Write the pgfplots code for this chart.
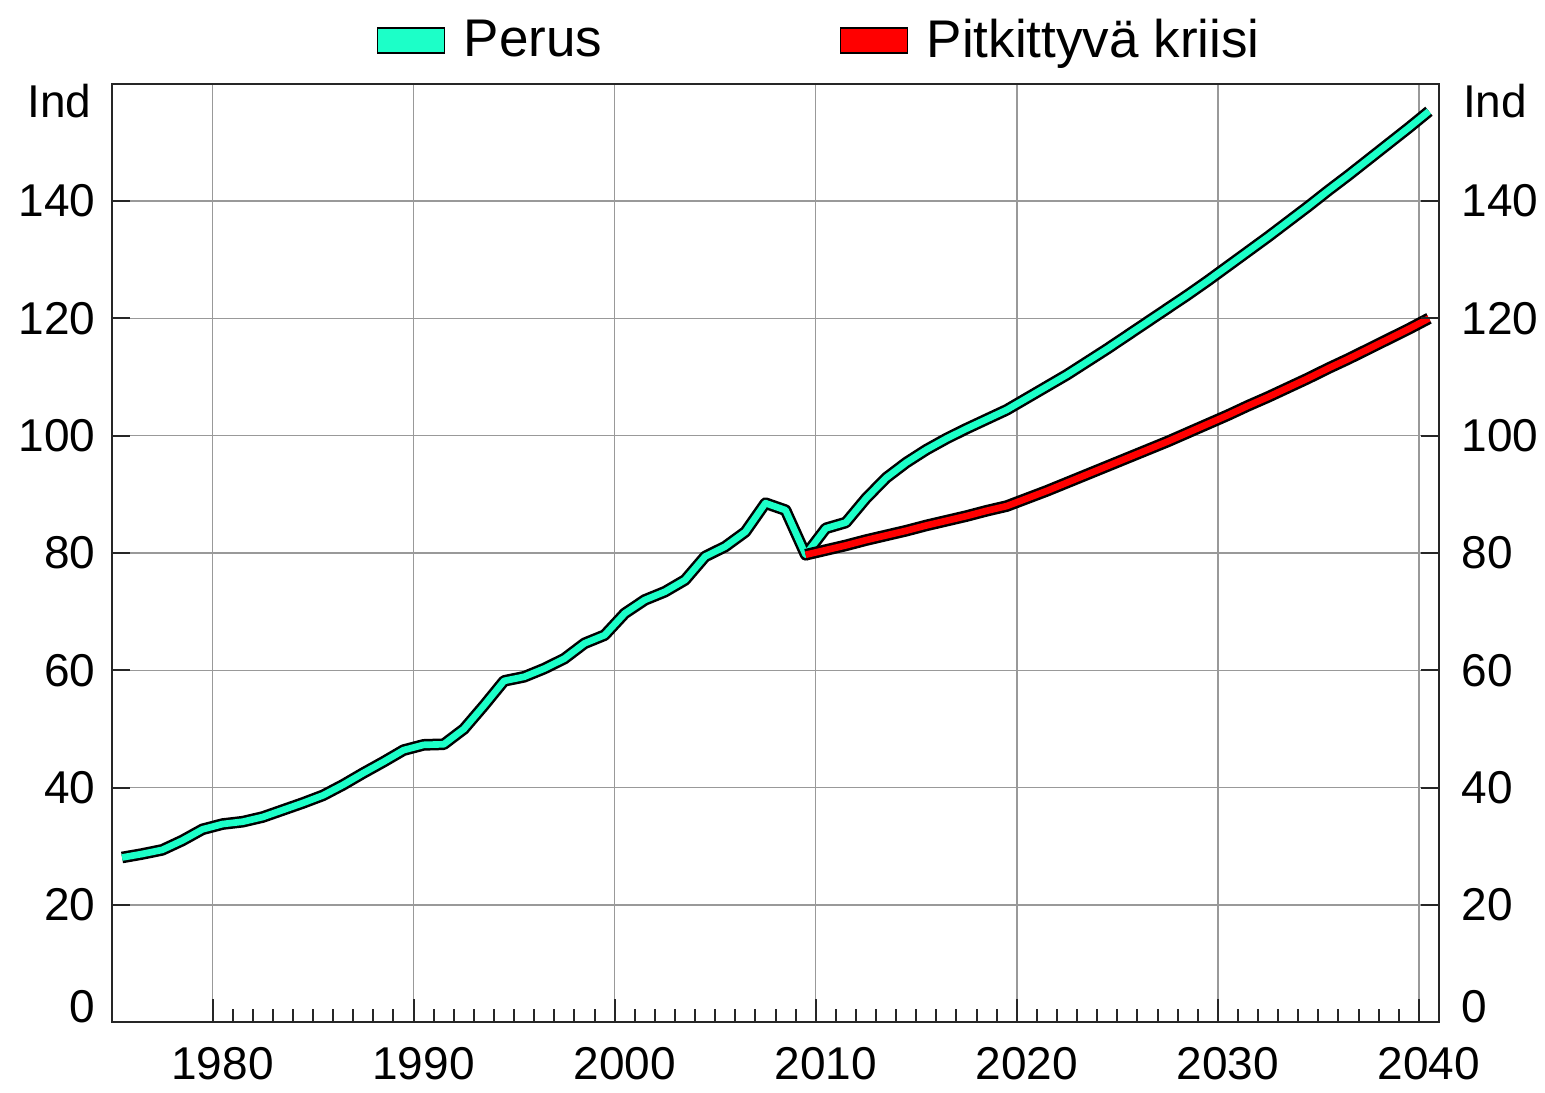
\documentclass[border=0pt]{standalone}
\usepackage{fontspec}
\setmainfont{Liberation Sans}
\usepackage{pgfplots}
\pgfplotsset{compat=1.18}

\definecolor{perus}{RGB}{28,255,200}
\definecolor{kriisi}{RGB}{255,0,0}
\newcommand{\kf}{\fontsize{13.8}{16}\selectfont}
\newcommand{\lf}{\fontsize{15.9}{18}\selectfont}

\pgfplotsset{
  pohja/.style={
    at={(0,0)}, anchor=south west,
    scale only axis, width=398.1pt, height=281.6pt,
    xmin=1975, xmax=2041, ymin=0, ymax=160,
    axis line style={line width=0.6pt, black!85},
    tick label style={font=\kf},
    /pgf/number format/assume math mode=true,
    /pgf/number format/1000 sep={},
    ytick={20,40,...,140},
    extra y ticks={0},
    clip mode=individual,
  },
  viiva/.style={draw=black, line width=0.75pt, double=#1, double distance=2pt, line join=round},
}

\begin{document}
\begin{tikzpicture}[font=\kf]
\path[use as bounding box] (-33.6pt,-20.9pt) rectangle (429.9pt,306.7pt);

% vasen akseli, data, ruudukko
\begin{axis}[
  pohja,
  xtick={1980,1990,...,2040},
  minor x tick num=9,
  xtick pos=bottom,
  major tick length=7pt, minor tick length=4pt,
  tick style={line width=0.6pt, black!85},
  xticklabel style={xshift=3pt, yshift=-4pt},
  ytick style={draw=none},
  yticklabel pos=left,
  yticklabel style={xshift=-1.4pt},
  extra y tick style={yticklabel style={anchor=base east}, grid=none},
  grid=major,
  major grid style={line width=0.45pt, black!40},
  legend image code/.code={\draw[#1] (0pt,-3.75pt) rectangle (20pt,3.75pt);},
  legend style={at={(rel axis cs:0,1)}, anchor=west, xshift=79.3pt, yshift=13pt,
    draw=none, fill=none, inner sep=0pt, font=\lf, legend columns=-1,
    nodes={inner xsep=0pt},
    /tikz/every odd column/.style={column sep=5.6pt},
    /tikz/every even column/.style={column sep=71.4pt}},
]
\addlegendimage{draw=black, fill=perus}
\addlegendimage{draw=black, fill=kriisi}

% Perus
\addplot[viiva=perus, forget plot] coordinates {
  (1975.5,28.1) (1976.5,28.7) (1977.5,29.4) (1978.5,31.0) (1979.5,32.9)
  (1980.5,33.8) (1981.5,34.2) (1982.5,35.0) (1983.5,36.2) (1984.5,37.4)
  (1985.5,38.7) (1986.5,40.5) (1987.5,42.5) (1988.5,44.4) (1989.5,46.4)
  (1990.5,47.3) (1991.5,47.4) (1992.5,50.0) (1993.5,54.0) (1994.5,58.2)
  (1995.5,58.9) (1996.5,60.3) (1997.5,62.0) (1998.5,64.6) (1999.5,66.0)
  (2000.5,69.7) (2001.5,72.0) (2002.5,73.4) (2003.5,75.4) (2004.5,79.4)
  (2005.5,81.1) (2006.5,83.6) (2007.5,88.5) (2008.5,87.3) (2009.5,79.7)
  (2010.5,84.2) (2011.5,85.2) (2012.5,89.3) (2013.5,92.8) (2014.5,95.4)
  (2015.5,97.6) (2016.5,99.5) (2017.5,101.2) (2018.5,102.8) (2019.5,104.4)
  (2020.5,106.4) (2021.5,108.4) (2022.5,110.4) (2023.5,112.6) (2024.5,114.8)
  (2025.5,117.1) (2026.5,119.4) (2027.5,121.7) (2028.5,124.0) (2029.5,126.4)
  (2030.5,128.9) (2031.5,131.4) (2032.5,133.9) (2033.5,136.5) (2034.5,139.1)
  (2035.5,141.8) (2036.5,144.4) (2037.5,147.1) (2038.5,149.8) (2039.5,152.5)
  (2040.5,155.3)
};

% Pitkittyva kriisi
\addplot[viiva=kriisi, forget plot] coordinates {
  (2009.5,79.7) (2010.5,80.5) (2011.5,81.3) (2012.5,82.2) (2013.5,83.0)
  (2014.5,83.8) (2015.5,84.7) (2016.5,85.5) (2017.5,86.3) (2018.5,87.2)
  (2019.5,88.0) (2020.5,89.3) (2021.5,90.6) (2022.5,92.0) (2023.5,93.4)
  (2024.5,94.8) (2025.5,96.2) (2026.5,97.6) (2027.5,99.0) (2028.5,100.5)
  (2029.5,102.0) (2030.5,103.5) (2031.5,105.1) (2032.5,106.6) (2033.5,108.2)
  (2034.5,109.8) (2035.5,111.5) (2036.5,113.1) (2037.5,114.8) (2038.5,116.5)
  (2039.5,118.2) (2040.5,120.0)
};

\legend{Perus, Pitkittyvä kriisi}
\node[anchor=north east, inner sep=0pt, xshift=-6pt] at (rel axis cs:0,1) {Ind};
\end{axis}

% oikea akseli: y-merkit molemmin puolin, numerot oikealla
\begin{axis}[
  pohja,
  xtick=\empty,
  ytick pos=both,
  yticklabel pos=right,
  major tick length=5.3pt,
  tick style={line width=0.6pt, black!85},
  yticklabel style={xshift=3.2pt},
  extra y tick style={yticklabel style={anchor=base west}},
]
\node[anchor=north west, inner sep=0pt, xshift=7pt] at (rel axis cs:1,1) {Ind};
\end{axis}
\end{tikzpicture}
\end{document}
